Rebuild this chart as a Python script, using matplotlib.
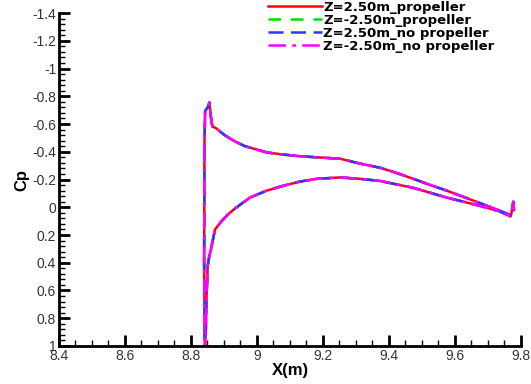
import matplotlib
matplotlib.use("Agg")
import matplotlib.pyplot as plt
from matplotlib.ticker import MultipleLocator, FuncFormatter

# ---- data ----
# surface traced from trailing edge (upper) -> leading edge -> trailing edge (lower)
x_surface = [9.779, 9.777, 9.770, 9.762, 9.720, 9.676, 9.620, 9.575, 9.520, 9.474,
             9.420, 9.373, 9.312, 9.252, 9.181, 9.130, 9.080, 9.030, 8.994, 8.964,
             8.933, 8.902, 8.881, 8.873, 8.865, 8.860, 8.856, 8.851, 8.846, 8.843,
             8.841, 8.840, 8.842, 8.845, 8.847, 8.851, 8.855, 8.861, 8.873, 8.893,
             8.913, 8.933, 8.979, 9.030, 9.080, 9.130, 9.181, 9.252, 9.312, 9.373,
             9.403, 9.474, 9.575, 9.676, 9.736, 9.767]
cp_propeller = [0.02, -0.04, 0.06, 0.05, 0.01, -0.03, -0.08, -0.12, -0.165, -0.205,
                -0.25, -0.285, -0.315, -0.35, -0.36, -0.368, -0.38, -0.395, -0.42, -0.44,
                -0.475, -0.52, -0.56, -0.575, -0.58, -0.66, -0.755, -0.72, -0.705, -0.69,
                -0.45, 0.40, 1.05, 0.90, 0.66, 0.42, 0.36, 0.30, 0.16, 0.10,
                0.05, 0.01, -0.07, -0.12, -0.155, -0.185, -0.205, -0.215, -0.205, -0.19,
                -0.175, -0.14, -0.07, -0.01, 0.03, 0.065]
cp_no_propeller = [0.02, -0.04, 0.06, 0.05, 0.01, -0.03, -0.08, -0.12, -0.165, -0.205,
                   -0.25, -0.285, -0.315, -0.35, -0.36, -0.368, -0.38, -0.395, -0.42, -0.44,
                   -0.475, -0.52, -0.56, -0.575, -0.58, -0.66, -0.755, -0.72, -0.705, -0.69,
                   -0.45, 0.40, 1.05, 0.90, 0.66, 0.42, 0.36, 0.30, 0.16, 0.10,
                   0.05, 0.01, -0.07, -0.12, -0.155, -0.185, -0.205, -0.215, -0.205, -0.19,
                   -0.175, -0.14, -0.07, -0.01, 0.03, 0.065]

series_labels = ["Z=2.50m_propeller", "Z=-2.50m_propeller",
                 "Z=2.50m_no propeller", "Z=-2.50m_no propeller"]
series_values = [cp_propeller, cp_propeller, cp_no_propeller, cp_no_propeller]
series_colors = ["#ff0000", "#00dd00", "#3333ff", "#ff00ff"]
series_styles = ["-", (0, (5, 4)), (0, (6, 3)), (0, (7, 2.5, 1.5, 2.5))]

x_ticks = [8.4, 8.6, 8.8, 9.0, 9.2, 9.4, 9.6, 9.8]
y_ticks = [-1.4, -1.2, -1.0, -0.8, -0.6, -0.4, -0.2, 0, 0.2, 0.4, 0.6, 0.8, 1.0]

plt.rcParams['font.family'] = ['Liberation Sans', 'DejaVu Sans']

fig = plt.figure(figsize=(5.31, 3.84), dpi=100)
ax = fig.add_axes([0.111, 0.099, 0.870, 0.867])

for vals, lab, col, ls in zip(series_values, series_labels, series_colors, series_styles):
    ax.plot(x_surface, vals, color=col, linestyle=ls, linewidth=1.8, label=lab)

ax.set_xlim(8.4, 9.8)
ax.set_ylim(1.0, -1.4)
ax.set_xticks(x_ticks)
ax.set_yticks(y_ticks)
ax.xaxis.set_minor_locator(MultipleLocator(0.05))
ax.yaxis.set_minor_locator(MultipleLocator(0.04))
fmt = FuncFormatter(lambda v, p: ("%g" % round(v, 2)))
ax.xaxis.set_major_formatter(fmt)
ax.yaxis.set_major_formatter(fmt)

for s in ['top', 'right']:
    ax.spines[s].set_visible(False)
for s in ['left', 'bottom']:
    ax.spines[s].set_linewidth(2)
ax.tick_params(which='major', direction='in', length=8, width=2, labelsize=10,
               colors='black', labelcolor='#333333', pad=2)
ax.tick_params(which='minor', direction='in', length=4, width=1)

ax.set_xlabel("X(m)", fontsize=12, fontweight='bold', labelpad=0)
ax.set_ylabel("Cp", fontsize=12, fontweight='bold', labelpad=2)

leg = ax.legend(loc='upper left', bbox_to_anchor=(268 / 531, 1 - 1 / 384),
                bbox_transform=fig.transFigure, frameon=False,
                borderpad=0, borderaxespad=0,
                handlelength=4.1, handletextpad=0.1, labelspacing=0.0,
                prop={'family': 'DejaVu Sans', 'weight': 'bold', 'size': 9.5})

fig.savefig("out.png", dpi=100)
